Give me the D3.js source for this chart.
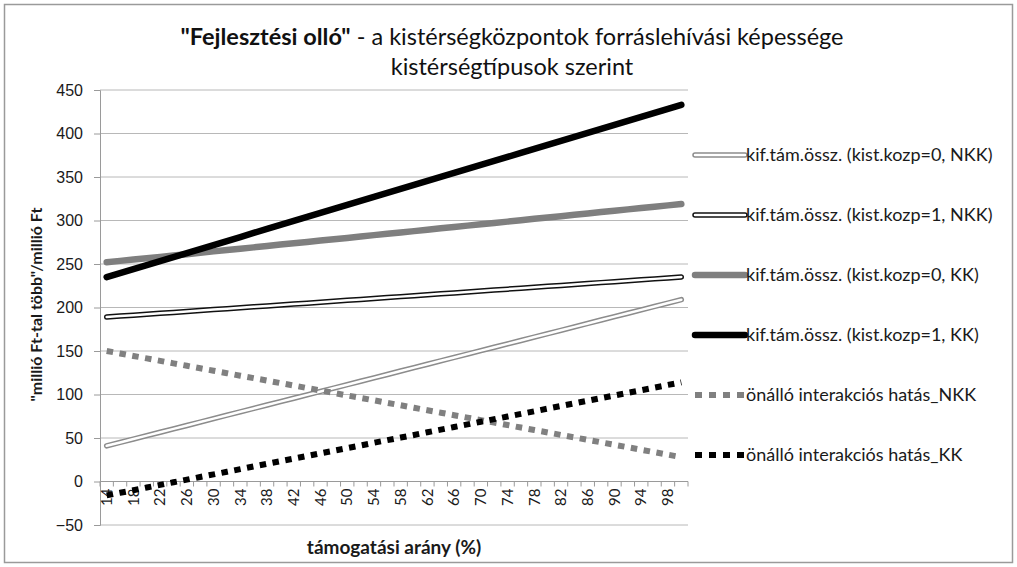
<!DOCTYPE html>
<html>
<head>
<meta charset="utf-8">
<script src="https://cdn.jsdelivr.net/npm/d3@7"></script>
<style>
  body { margin: 0; background: #fff; }
  svg { display: block; font-family: Lato, "Open Sans", sans-serif; }
</style>
</head>
<body>
<svg id="chart" width="1017" height="567"></svg>
<script>
// categories: támogatási arány (%)
const categories = [14, 16, 18, 20, 22, 24, 26, 28, 30, 32, 34, 36, 38, 40, 42, 44, 46, 48, 50, 52, 54, 56,
  58, 60, 62, 64, 66, 68, 70, 72, 74, 76, 78, 80, 82, 84, 86, 88, 90, 92, 94, 96, 98, 100];

const kozp0NKK = [41.0, 44.9, 48.8, 52.7, 56.6, 60.5, 64.4, 68.3, 72.3, 76.2, 80.1, 84.0, 87.9, 91.8, 95.7, 99.6,
  103.5, 107.4, 111.3, 115.2, 119.1, 123.0, 127.0, 130.9, 134.8, 138.7, 142.6, 146.5, 150.4, 154.3, 158.2, 162.1,
  166.0, 169.9, 173.8, 177.7, 181.7, 185.6, 189.5, 193.4, 197.3, 201.2, 205.1, 209.0];
const kozp1NKK = [189.0, 190.1, 191.1, 192.2, 193.3, 194.3, 195.4, 196.5, 197.6, 198.6, 199.7, 200.8, 201.8, 202.9,
  204.0, 205.0, 206.1, 207.2, 208.3, 209.3, 210.4, 211.5, 212.5, 213.6, 214.7, 215.7, 216.8, 217.9, 219.0, 220.0,
  221.1, 222.2, 223.2, 224.3, 225.4, 226.4, 227.5, 228.6, 229.7, 230.7, 231.8, 232.9, 233.9, 235.0];
const kozp0KK = [252.0, 253.6, 255.1, 256.7, 258.2, 259.8, 261.3, 262.9, 264.5, 266.0, 267.6, 269.1, 270.7, 272.3,
  273.8, 275.4, 276.9, 278.5, 280.0, 281.6, 283.2, 284.7, 286.3, 287.8, 289.4, 291.0, 292.5, 294.1, 295.6, 297.2,
  298.7, 300.3, 301.9, 303.4, 305.0, 306.5, 308.1, 309.7, 311.2, 312.8, 314.3, 315.9, 317.4, 319.0];
const kozp1KK = [235.0, 239.6, 244.2, 248.8, 253.4, 258.0, 262.6, 267.2, 271.8, 276.4, 281.0, 285.7, 290.3, 294.9,
  299.5, 304.1, 308.7, 313.3, 317.9, 322.5, 327.1, 331.7, 336.3, 340.9, 345.5, 350.1, 354.7, 359.3, 363.9, 368.5,
  373.1, 377.8, 382.4, 387.0, 391.6, 396.2, 400.8, 405.4, 410.0, 414.6, 419.2, 423.8, 428.4, 433.0];
const interNKK = [150.0, 147.2, 144.3, 141.5, 138.7, 135.8, 133.0, 130.1, 127.3, 124.5, 121.6, 118.8, 116.0, 113.1,
  110.3, 107.4, 104.6, 101.8, 98.9, 96.1, 93.3, 90.4, 87.6, 84.7, 81.9, 79.1, 76.2, 73.4, 70.6, 67.7,
  64.9, 62.0, 59.2, 56.4, 53.5, 50.7, 47.9, 45.0, 42.2, 39.4, 36.5, 33.7, 30.8, 28.0];
const interKK = [-16.0, -13.0, -10.0, -6.9, -3.9, -0.9, 2.1, 5.2, 8.2, 11.2, 14.2, 17.3, 20.3, 23.3,
  26.3, 29.3, 32.4, 35.4, 38.4, 41.4, 44.5, 47.5, 50.5, 53.5, 56.6, 59.6, 62.6, 65.6, 68.7, 71.7,
  74.7, 77.7, 80.7, 83.8, 86.8, 89.8, 92.8, 95.9, 98.9, 101.9, 104.9, 108.0, 111.0, 114.0];

const seriesNames = [
  "kif.tám.össz. (kist.kozp=0, NKK)",
  "kif.tám.össz. (kist.kozp=1, NKK)",
  "kif.tám.össz. (kist.kozp=0, KK)",
  "kif.tám.össz. (kist.kozp=1, KK)",
  "önálló interakciós hatás_NKK",
  "önálló interakciós hatás_KK"
];
const yTicks = [-50, 0, 50, 100, 150, 200, 250, 300, 350, 400, 450];

// line styles per series (outer stroke + optional inner white stroke)
const styles = [
  { color: "#8c8c8c", width: 5.5, inner: 2.5 },
  { color: "#111", width: 5.5, inner: 2.5 },
  { color: "#7f7f7f", width: 6.5 },
  { color: "#000", width: 6.5 },
  { color: "#808080", width: 6, dash: "6.5,6.5" },
  { color: "#000", width: 6, dash: "6.5,6.5" }
];
const allSeries = [kozp0NKK, kozp1NKK, kozp0KK, kozp1KK, interNKK, interKK];

const svg = d3.select("#chart");
const plotLeft = 100, plotRight = 688, plotTop = 90, plotBottom = 525;
const textColor = "#1a1a1a";

svg.append("rect")
  .attr("x", 4.5).attr("y", 4.5).attr("width", 1008).attr("height", 558)
  .attr("fill", "#fff").attr("stroke", "#9a9a9a").attr("stroke-width", 1.5);

const x = d3.scaleBand().domain(categories).range([plotLeft, plotRight]).paddingInner(0).paddingOuter(0);
const y = d3.scaleLinear().domain([-50, 450]).range([plotBottom, plotTop]);

// gridlines
svg.append("g").selectAll("line")
  .data(yTicks)
  .join("line")
  .attr("x1", plotLeft).attr("x2", plotRight)
  .attr("y1", d => y(d)).attr("y2", d => y(d))
  .attr("stroke", d => d === 0 ? "#9a9a9a" : "#b8b8b8")
  .attr("stroke-width", 1);

// y axis
const yAxis = svg.append("g")
  .attr("transform", `translate(${plotLeft},0)`)
  .call(d3.axisLeft(y).tickValues(yTicks).tickSize(6).tickPadding(11));
yAxis.select(".domain").attr("stroke", "#9a9a9a");
yAxis.selectAll(".tick line").attr("stroke", "#9a9a9a");
yAxis.selectAll("text").attr("font-size", 16).attr("fill", textColor);

// x axis at value 0, ticks at category boundaries
const boundaries = categories.map(c => x(c)).concat([plotRight]);
svg.append("g").selectAll("line")
  .data(boundaries)
  .join("line")
  .attr("x1", d => d).attr("x2", d => d)
  .attr("y1", y(0)).attr("y2", y(0) + 5)
  .attr("stroke", "#9a9a9a");

svg.append("g").selectAll("text")
  .data(categories.filter((c, i) => i % 2 === 0))
  .join("text")
  .attr("transform", d => `translate(${x(d) + x.bandwidth() / 2},${y(0) + 7}) rotate(-90)`)
  .attr("text-anchor", "end")
  .attr("dy", "0.35em")
  .attr("font-size", 15)
  .attr("fill", textColor)
  .text(d => d);

// series lines
const line = d3.line()
  .x((d, i) => x(categories[i]) + x.bandwidth() / 2)
  .y(d => y(d));

allSeries.forEach((vals, k) => {
  const s = styles[k];
  svg.append("path")
    .attr("d", line(vals))
    .attr("fill", "none")
    .attr("stroke", s.color)
    .attr("stroke-width", s.width)
    .attr("stroke-linecap", s.dash ? "butt" : "round")
    .attr("stroke-linejoin", "round")
    .attr("stroke-dasharray", s.dash || null);
  if (s.inner) {
    svg.append("path")
      .attr("d", line(vals))
      .attr("fill", "none")
      .attr("stroke", "#fff")
      .attr("stroke-width", s.inner)
      .attr("stroke-linecap", "round");
  }
});

// legend
const legend = svg.append("g").selectAll("g")
  .data(seriesNames)
  .join("g")
  .attr("transform", (d, i) => `translate(695,${155 + i * 60})`);

legend.each(function (d, k) {
  const g = d3.select(this);
  const s = styles[k];
  g.append("line")
    .attr("x1", 0).attr("x2", 50).attr("y1", 0).attr("y2", 0)
    .attr("stroke", s.color).attr("stroke-width", s.width)
    .attr("stroke-linecap", s.dash ? "butt" : "round")
    .attr("stroke-dasharray", s.dash ? "7,7" : null);
  if (s.inner) {
    g.append("line")
      .attr("x1", 0).attr("x2", 50).attr("y1", 0).attr("y2", 0)
      .attr("stroke", "#fff").attr("stroke-width", s.inner)
      .attr("stroke-linecap", "round");
  }
  g.append("text")
    .attr("x", 51).attr("dy", "0.35em")
    .attr("font-size", 18).attr("fill", textColor)
    .text(d);
});

// titles
const title = svg.append("text")
  .attr("x", 512).attr("y", 45)
  .attr("text-anchor", "middle")
  .attr("font-size", 23.5).attr("fill", "#111");
title.append("tspan").attr("font-weight", "bold").text("\"Fejlesztési olló\"");
title.append("tspan").text(" - a kistérségközpontok forráslehívási képessége");
svg.append("text")
  .attr("x", 512).attr("y", 75)
  .attr("text-anchor", "middle")
  .attr("font-size", 23.5).attr("fill", "#111")
  .text("kistérségtípusok szerint");

svg.append("text")
  .attr("transform", `translate(36,${(plotTop + plotBottom) / 2 - 3}) rotate(-90)`)
  .attr("text-anchor", "middle")
  .attr("dy", "0.35em")
  .attr("font-size", 16).attr("font-weight", "bold").attr("fill", textColor)
  .text("\"millió Ft-tal több\"/millió Ft");

svg.append("text")
  .attr("x", (plotLeft + plotRight) / 2).attr("y", 554)
  .attr("text-anchor", "middle")
  .attr("font-size", 19).attr("font-weight", "bold").attr("fill", textColor)
  .text("támogatási arány (%)");
</script>
</body>
</html>
